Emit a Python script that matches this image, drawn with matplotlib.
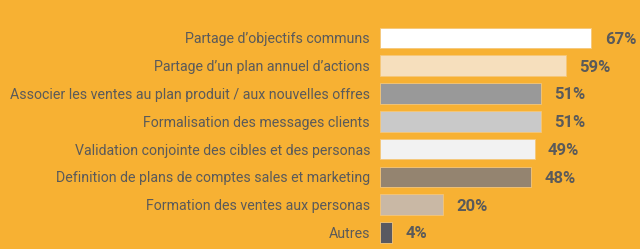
import matplotlib.pyplot as plt

categories = [
    "Partage d\u2019objectifs communs",
    "Partage d\u2019un plan annuel d\u2019actions",
    "Associer les ventes au plan produit / aux nouvelles offres",
    "Formalisation des messages clients",
    "Validation conjointe des cibles et des personas",
    "Definition de plans de comptes sales et marketing",
    "Formation des ventes aux personas",
    "Autres",
]
values = [67, 59, 51, 51, 49, 48, 20, 4]
bar_colors = ["#FFFFFF", "#F6DFBD", "#999999", "#C9C9C9",
              "#F2F2F2", "#948470", "#C9B8A5", "#595961"]

bg = "#F7B133"
text_color = "#5A5A5A"

plt.rcParams["font.family"] = ["Roboto", "DejaVu Sans"]

fig = plt.figure(figsize=(6.4, 2.49), dpi=100, facecolor=bg)
ax = fig.add_axes([379.5 / 640, 0, 260.5 / 640, 1])
ax.set_facecolor(bg)

ypos = list(range(len(categories)))
ax.barh(ypos, values, height=0.74, color=bar_colors, edgecolor="#F5C77A", linewidth=0.6)

for y, v in zip(ypos, values):
    ax.annotate(f"{v}%", (v, y), xytext=(9.5, -1), textcoords="offset points",
                va="center", ha="left", fontsize=12, fontweight="bold", color=text_color)

ax.set_xlim(0, 260.5 / 3.164)
ax.set_ylim(7.59, -1.36)
ax.set_yticks(ypos)
ax.set_yticklabels(categories, fontsize=10.15, color=text_color)
ax.tick_params(axis="y", length=0, pad=6.8)
ax.set_xticks([])
for s in ax.spines.values():
    s.set_visible(False)

fig.savefig("out.png", dpi=100, facecolor=bg)
